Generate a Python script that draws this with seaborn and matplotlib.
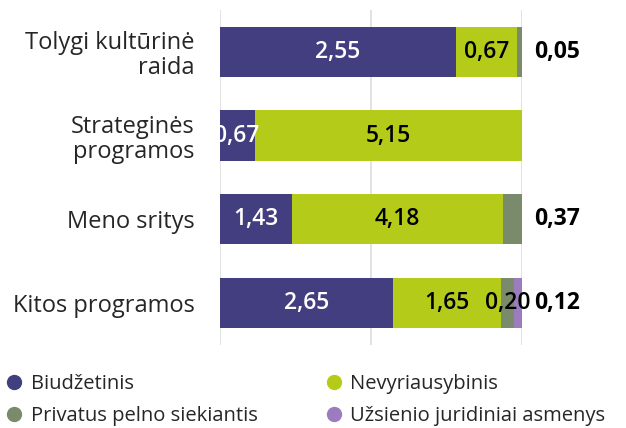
import matplotlib
matplotlib.use("Agg")
import matplotlib.pyplot as plt
import seaborn as sns
import pandas as pd
import numpy as np

# data (mln. EUR)
categories = ["Tolygi kultūrinė\nraida", "Strateginės\nprogramos", "Meno sritys", "Kitos programos"]
biudzetinis = [2.55, 0.67, 1.43, 2.65]
nevyriausybinis = [0.67, 5.15, 4.18, 1.65]
privatus = [0.05, 0.00, 0.37, 0.20]
uzsienio = [0.00, 0.00, 0.00, 0.12]

series_names = ["Biudžetinis", "Nevyriausybinis", "Privatus pelno siekiantis", "Užsienio juridiniai asmenys"]
colors = ["#433e7f", "#b4cc19", "#7a8b6b", "#9b7dbf"]
label_colors = ["white", "black", "black", "black"]

sns.set_style("white")
plt.rcParams["font.family"] = ["Open Sans", "DejaVu Sans"]

vals = np.array([biudzetinis, nevyriausybinis, privatus, uzsienio])
shares = vals / vals.sum(axis=0) * 100
cum = np.cumsum(shares, axis=0)

fig = plt.figure(figsize=(6.26, 4.28), dpi=100)
ax = fig.add_axes([0.351, 0.194, 0.483, 0.783])

# draw stacked bars from the longest cumulative layer down
for i in range(3, -1, -1):
    df = pd.DataFrame({"kat": categories, "x": cum[i]})
    sns.barplot(data=df, x="x", y="kat", orient="h", color=colors[i],
                saturation=1, width=0.6, ax=ax, edgecolor="none")

for j in range(len(categories)):
    nz = [i for i in range(4) if vals[i, j] > 0]
    last = nz[-1]
    for i in nz:
        txt = f"{vals[i, j]:.2f}".replace(".", ",")
        if i == last and i >= 2:
            ax.text(111.5, j, txt, ha="center", va="center", fontsize=16.5,
                    fontweight="bold", color="black")
        else:
            ax.text(cum[i, j] - shares[i, j] / 2, j, txt, ha="center", va="center",
                    fontsize=16.5, fontweight="semibold", color=label_colors[i])

ax.set_xlim(0, 100)
ax.set_ylim(3.5, -0.5)
ax.set_xticks([0, 50, 100])
ax.set_xticklabels([])
ax.xaxis.grid(True, color="#dddddd", linewidth=1.2)
ax.set_axisbelow(True)
ax.set_xlabel("")
ax.set_ylabel("")
ax.tick_params(axis="y", length=0, pad=18, labelsize=17)
ax.tick_params(axis="x", length=0)
for lbl in ax.get_yticklabels():
    lbl.set_linespacing(1.08)
sns.despine(ax=ax, left=True, bottom=True)

handles = [plt.Line2D([], [], marker="o", linestyle="", markersize=10,
                      markerfacecolor=c, markeredgecolor=c) for c in colors]
order = [0, 2, 1, 3]
fig.legend([handles[k] for k in order], [series_names[k] for k in order],
           loc="lower left", bbox_to_anchor=(-0.022, -0.037),
           ncol=2, frameon=False, fontsize=14.5, handletextpad=0.3,
           columnspacing=3.3, labelspacing=0.58, handlelength=1.0)

fig.savefig("out.png", dpi=100)
